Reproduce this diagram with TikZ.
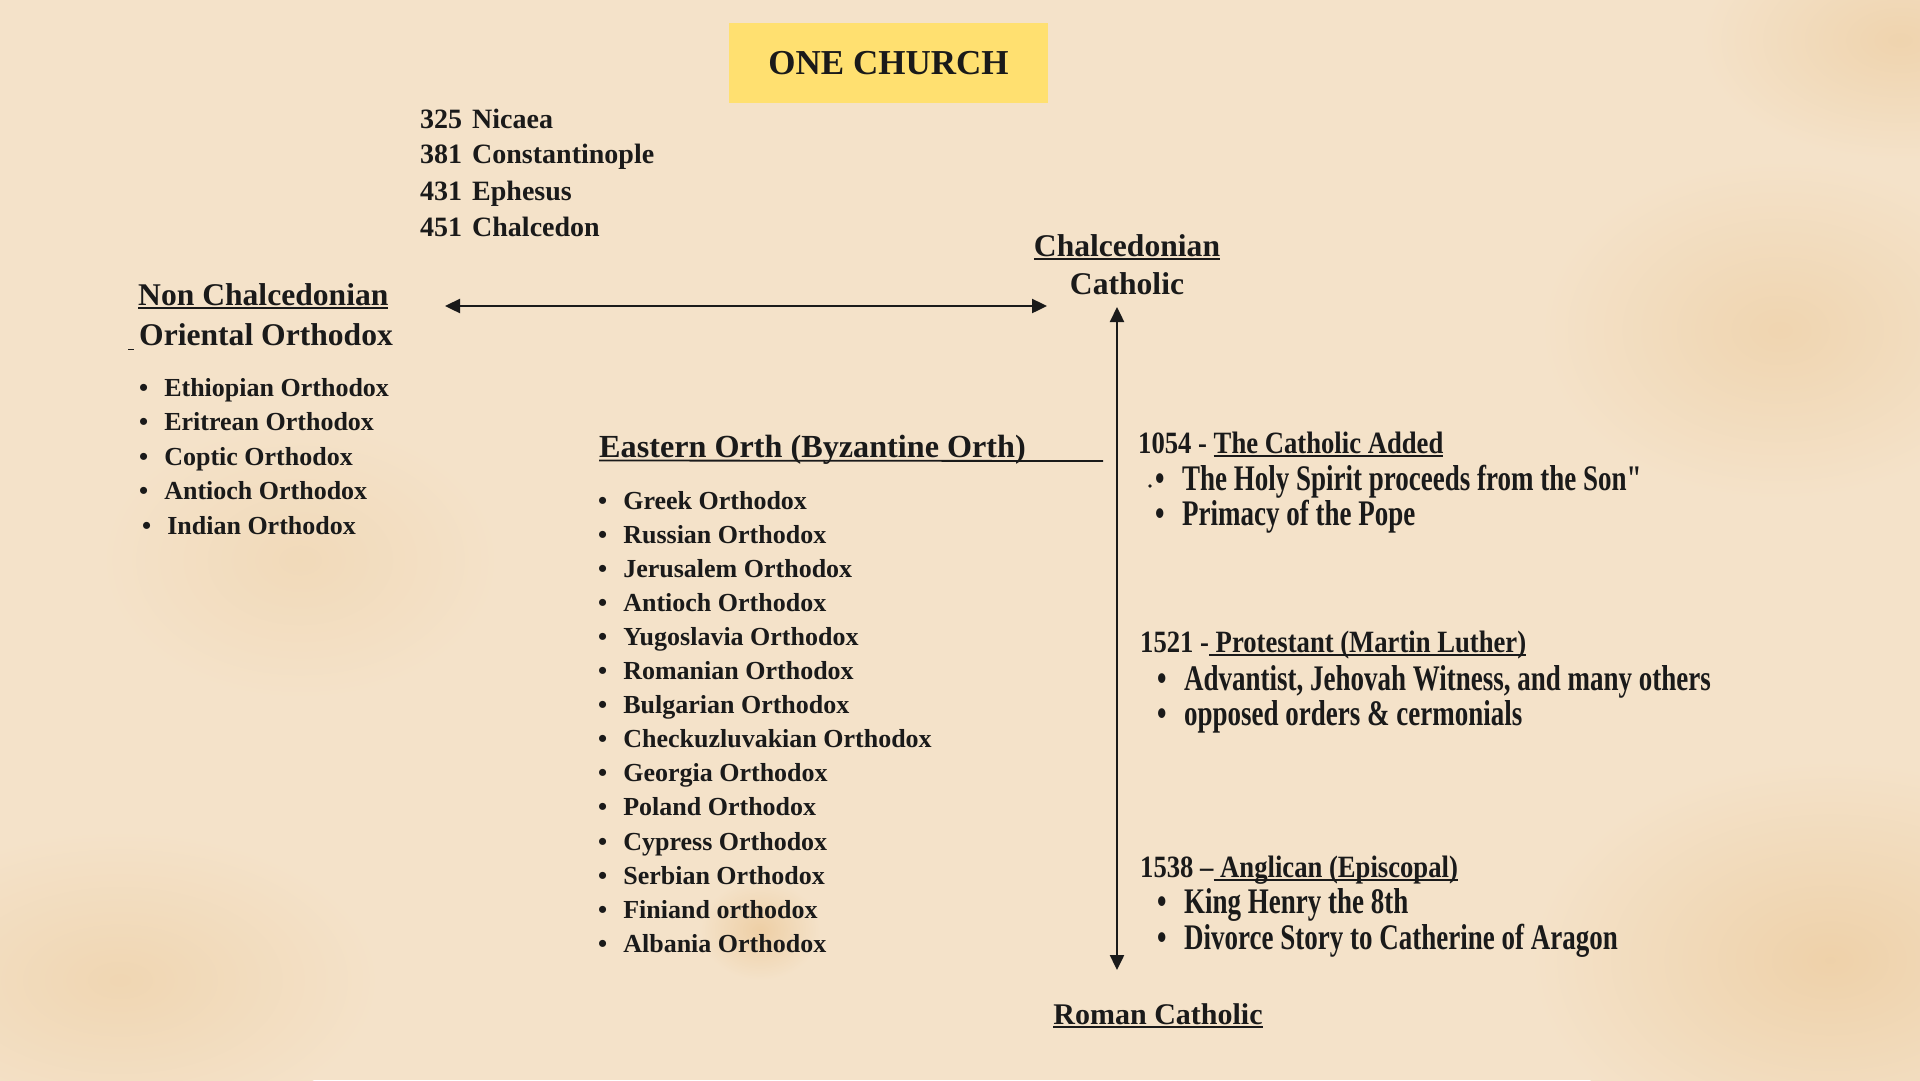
\documentclass[tikz,border=0pt]{standalone}
\usepackage{fontspec}
\setmainfont{Liberation Serif}
\newfontfamily\semifont[FakeStretch=0.86]{Liberation Serif}
\newfontfamily\condfont[FakeStretch=0.75]{Liberation Serif}
\usetikzlibrary{arrows.meta}
\definecolor{paper}{HTML}{F4E2C9}
\definecolor{stain}{HTML}{ECCA9C}
\definecolor{banner}{HTML}{FFE070}
\definecolor{ink}{HTML}{1A1A1A}
\newcommand{\itm}{\textbullet\hspace{16pt}}
\newcommand{\itmr}{\textbullet\hspace{17.5pt}}
\newcommand{\undl}[1]{\setbox0\hbox{#1}\rlap{\rule[-3.5pt]{\wd0}{1.5pt}}\box0}

\begin{document}
\begin{tikzpicture}[
        x=1pt, y=-1pt,
        banner/.style={rectangle, fill=banner, minimum width=319pt, minimum height=80pt, inner sep=0pt, text=ink, font=\fontsize{35}{42}\selectfont\bfseries},
        head/.style={anchor=base west, inner sep=0pt, text=ink, font=\fontsize{31.6}{37}\selectfont\bfseries},
        council/.style={anchor=base west, inner sep=0pt, text=ink, font=\fontsize{28}{34}\selectfont\bfseries},
        item/.style={anchor=base west, inner sep=0pt, text=ink, font=\fontsize{26}{31}\selectfont\bfseries},
        datehead/.style={anchor=base west, inner sep=0pt, text=ink, font=\semifont\fontsize{31}{37}\selectfont\bfseries},
        note/.style={anchor=base west, inner sep=0pt, text=ink, font=\condfont\fontsize{36}{43}\selectfont\bfseries},
        split/.style={draw=ink, line width=2.4pt, {Triangle[length=15pt,width=14pt]}-{Triangle[length=15pt,width=14pt]}}
    ]
        \useasboundingbox (0,0) rectangle (1920,1080);
        \fill[paper] (0,0) rectangle (1920,1080);
        \shade[inner color=stain!70!paper, outer color=paper] (1830,960) ellipse (300pt and 200pt);
        \shade[inner color=stain!55!paper, outer color=paper] (1780,330) ellipse (240pt and 170pt);
        \shade[inner color=stain!60!paper, outer color=paper] (1900,40) ellipse (200pt and 120pt);
        \shade[inner color=stain!80!paper, outer color=paper] (760,930) ellipse (60pt and 50pt);
        \shade[inner color=stain!50!paper, outer color=paper] (120,980) ellipse (260pt and 150pt);
        \shade[inner color=stain!35!paper, outer color=paper] (300,560) ellipse (200pt and 140pt);

        \node[banner] (church) at (888.5,63) {ONE CHURCH};

        \node[council] (c325) at (420,128) {325\hspace{10pt}Nicaea};
        \node[council] (c381) at (420,163) {381\hspace{10pt}Constantinople};
        \node[council] (c431) at (420,200) {431\hspace{10pt}Ephesus};
        \node[council] (c451) at (420,236) {451\hspace{10pt}Chalcedon};

        \node[head] (nonchal) at (138,305) {\undl{Non Chalcedonian}};
        \node[head] (oriental) at (139,345) {Oriental Orthodox};
        \draw[ink, line width=1pt] (128,349) -- (134,349);
        \foreach \t [count=\i from 0] in {Ethiopian Orthodox, Eritrean Orthodox, Coptic Orthodox, Antioch Orthodox}
            \node[item] (orient\i) at (139,{396+34.5*\i}) {\itm\t};
        \node[item] (orient4) at (142,534) {\itm Indian Orthodox};

        \node[head, anchor=base] (chal) at (1127,256) {\undl{Chalcedonian}};
        \node[head, anchor=base] (catholic) at (1127,294) {Catholic};
        \node[head, anchor=base, font=\fontsize{30}{36}\selectfont\bfseries] (roman) at (1158,1024) {\undl{Roman Catholic}};

        \coordinate (westend) at (445,306);
        \coordinate (eastend) at (1047,306);
        \coordinate (toptip) at (1117,307);
        \coordinate (bottip) at (1117,970);
        \draw[split] (westend) -- (eastend);
        \draw[split] (toptip) -- (bottip);

        \node[head, font=\fontsize{32.2}{38}\selectfont\bfseries] (eastern) at (599,457) {Eastern Orth (Byzantine Orth)};
        \coordinate (lineend) at (1103,461);
        \draw[ink, line width=1.8pt] (eastern.base west) ++(0,3.5) -- (lineend);
        \foreach \t [count=\i from 0] in {Greek Orthodox, Russian Orthodox, Jerusalem Orthodox, Antioch Orthodox, Yugoslavia Orthodox, Romanian Orthodox, Bulgarian Orthodox, Checkuzluvakian Orthodox, Georgia Orthodox, Poland Orthodox, Cypress Orthodox, Serbian Orthodox, Finiand orthodox, Albania Orthodox}
            \node[item] (east\i) at (598,{509+34.1*\i}) {\itm\t};

        \node[datehead] (d1054) at (1138,453) {1054 - \undl{The Catholic Added}};
        \node[note] (filioque) at (1155,490) {\itmr The Holy Spirit proceeds from the Son"};
        \node[note] (pope) at (1155,525) {\itmr Primacy of the Pope};
        \fill[ink] (1150,486) circle (1.8pt);

        \node[datehead] (d1521) at (1140,652) {1521 -\undl{ Protestant (Martin Luther)}};
        \node[note] (others) at (1157,690) {\itmr Advantist, Jehovah Witness, and many others};
        \node[note] (orders) at (1157,725) {\itmr opposed orders \& cermonials};

        \node[datehead] (d1538) at (1140,877) {1538 \textendash\undl{ Anglican (Episcopal)}};
        \node[note] (henry) at (1157,913) {\itmr King Henry the 8th};
        \node[note] (divorce) at (1157,949) {\itmr Divorce Story to Catherine of Aragon};
    \end{tikzpicture}
\end{document}
